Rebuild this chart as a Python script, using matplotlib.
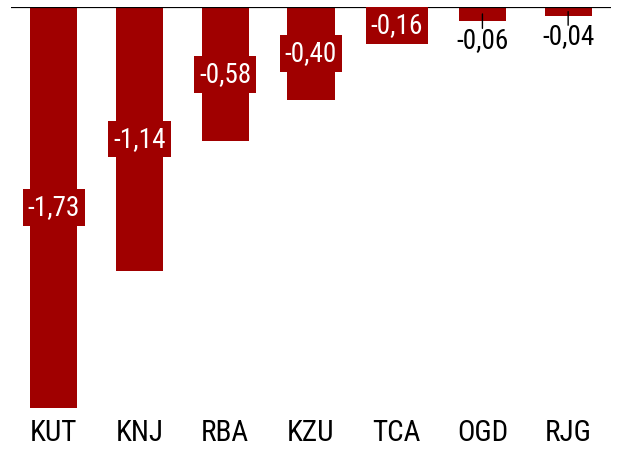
import matplotlib
matplotlib.use('Agg')
import matplotlib.pyplot as plt

# Chart data
categories = ['KUT', 'KNJ', 'RBA', 'KZU', 'TCA', 'OGD', 'RJG']
values = [-1.73, -1.14, -0.58, -0.40, -0.16, -0.06, -0.04]

bar_color = '#a00000'
plt.rcParams['font.family'] = ['Roboto Condensed', 'DejaVu Sans']

fig = plt.figure(figsize=(6.2, 4.54), dpi=100)
ax = fig.add_axes([11 / 620, 46 / 454, 600 / 620, 401 / 454])

x = range(len(categories))
ax.bar(x, values, width=0.55, color=bar_color, zorder=2)
ax.axhline(0, color='black', lw=1.6, zorder=3)

ax.set_xlim(-0.5, len(categories) - 0.5)
ax.set_ylim(min(values), 0)
for s in ax.spines.values():
    s.set_visible(False)
ax.set_yticks([])
ax.set_xticks(list(x))
ax.set_xticklabels(categories, fontsize=21)
ax.tick_params(axis='x', length=0, pad=8)

for i, v in enumerate(values):
    txt = ('%.2f' % v).replace('.', ',')
    if v < -0.1:
        ax.text(i, v / 2, txt, ha='center', va='center', color='white',
                fontsize=19.5, zorder=4,
                bbox=dict(boxstyle='square,pad=0.18', fc=bar_color, ec='none'))
    else:
        # small bars: label below, with a short leader line
        ax.annotate('', xy=(i, v / 2), xytext=(0, -12 + v * 40),
                    textcoords='offset pixels',
                    arrowprops=dict(arrowstyle='-', color='black', lw=1, shrinkA=0, shrinkB=0))
        ax.annotate(txt, xy=(i, v), xytext=(0, -20), textcoords='offset pixels',
                    ha='center', va='center', color='black', fontsize=19.5, zorder=4)

fig.savefig('out.png', dpi=100)
